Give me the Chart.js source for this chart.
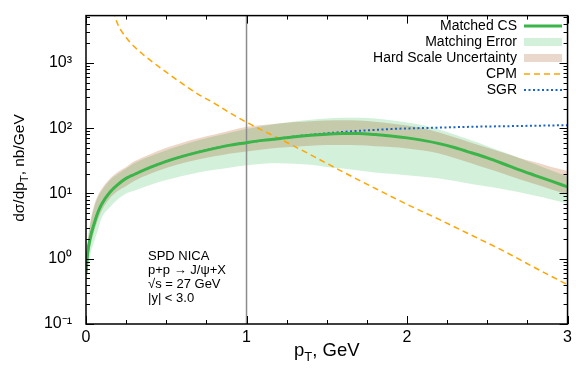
<!DOCTYPE html>
<html>
<head>
<meta charset="utf-8">
<script src="https://cdn.jsdelivr.net/npm/chart.js@4.4.1/dist/chart.umd.min.js"></script>
<style>
html,body{margin:0;padding:0;background:#fff}
#wrap{width:576px;height:369px}
</style>
</head>
<body>
<div id="wrap"><canvas id="c" width="576" height="369"></canvas></div>
<script>
// pT grid, GeV
const pT = [0,0.01,0.025,0.05,0.075,0.1,0.15,0.2,0.25,0.3,0.4,0.5,0.6,0.7,0.8,0.9,1.0,1.1,1.2,1.3,1.4,1.5,1.6,1.7,1.8,1.9,2.0,2.1,2.2,2.3,2.4,2.5,2.6,2.7,2.8,2.9,3.0];
// dsigma/dpT, nb/GeV
const matchedCS   = [0.6,1.2,2.0,3.4,5.2,7.0,10.5,13.8,17,19.5,25,31,37,43,49,55,60,65,69,74,78,81,83,83,80,76,71,65,58,50,42,35,28.5,23,18.8,15.4,12.6];
const matchErrHi  = [0.85,1.7,3.2,6.0,8.8,11.2,16,20,24,29,37,46,55,65,75,86,97,108,118,127,135,141,144,144,140,132,122,111,95,79,65,53,43,35,28,22.5,18.3];
const matchErrLo  = [0.35,0.6,1.1,1.8,2.8,4.3,6.2,8.2,10,11,13.5,16,18.5,21,23,25,27,28.5,29,28.5,27.5,25.5,24,22.5,21,20,19,18,17,15.5,14,12.8,11.6,10.4,9.2,8.1,7.0];
const hardScaleHi = [0.9,1.8,3.5,6.5,9.5,12,17,21.5,25.5,31,40,50,60,70,80,92,105,112,118,124,128,131,132,131,125,118,110,100,86,72,60,50,42,35,30,25.5,22];
const hardScaleLo = [0.45,0.9,1.5,2.6,4.0,5.6,8.5,11,13,15.5,20,24.5,29,33,37,41,44,47,50,52,54,55,55,54.5,53,51.5,49,45.5,41,34.5,29,24,20,16.5,13.8,11.5,9.6];
const sgr         = [0.6,1.2,2.0,3.4,5.2,7.0,10.5,13.8,17,19.5,25,31,37,43,49,55,60,65,69,75,79,83.5,87.5,91,94,97,99,100.5,102,103.5,105,106,107,108,109,110,111];
const cpmPT  = [0.16,0.18,0.2,0.25,0.3,0.35,0.4,0.5,0.6,0.7,0.8,0.9,1.0,1.2,1.4,1.6,1.8,2.0,2.2,2.4,2.6,2.8,3.0];
const cpm    = [9000,5300,3800,2450,1780,1380,1100,720,480,330,240,170,123,70,39,21.4,12,6.8,4.0,2.3,1.32,0.72,0.40];
const cutPT = [1, 1];
const cutY  = [0.1, 5300];
const xTicks = [0,1,2,3];
const yTicks = [0.1,1,10,100,1000];
const infoLines = ['SPD NICA','p+p \u2192 J/\u03c8+X','\u221as = 27 GeV','|y| < 3.0'];

const FONT = "'Liberation Sans', Arial, sans-serif";
const pts = (xs, ys) => xs.map((x,i)=>({x, y:ys[i]}));
const sup = {'-':'\u207b','0':'\u2070','1':'\u00b9','2':'\u00b2','3':'\u00b3'};

const decor = {
  id:'decor',
  afterDatasetDraw(chart, args){
    // hard-scale band is multiplied over the matching band (darker overlap)
    if (args.index === 4) chart.ctx.globalCompositeOperation = 'multiply';
    if (args.index === 3) chart.ctx.globalCompositeOperation = 'source-over';
  },
  afterDraw(chart){
    const ctx = chart.ctx, a = chart.chartArea, xs = chart.scales.x, ys = chart.scales.y;
    ctx.save();
    ctx.strokeStyle = '#000'; ctx.lineWidth = 1;
    ctx.beginPath();
    // y ticks, major + minor, both sides
    for (let d = 0.1; d < 1e4; d *= 10) {
      for (let k = 1; k < 10; k++) {
        const v = k*d;
        if (v < ys.min*0.999 || v > ys.max) continue;
        const y = Math.round(ys.getPixelForValue(v)) + 0.5, len = k === 1 ? 8 : 4;
        ctx.moveTo(a.left, y); ctx.lineTo(a.left+len, y);
        ctx.moveTo(a.right, y); ctx.lineTo(a.right-len, y);
      }
    }
    for (let i = 0; i <= 12; i++) {
      const x = Math.round(xs.getPixelForValue(i*0.25)) + 0.5, len = i%4 === 0 ? 8 : 4;
      ctx.moveTo(x, a.bottom); ctx.lineTo(x, a.bottom-len);
      ctx.moveTo(x, a.top); ctx.lineTo(x, a.top+len);
    }
    ctx.stroke();
    ctx.lineWidth = 1.5;
    ctx.strokeRect(a.left, a.top, a.right-a.left, a.bottom-a.top);

    // legend
    ctx.font = '14px ' + FONT; ctx.fillStyle = '#000';
    ctx.textAlign = 'right'; ctx.textBaseline = 'middle';
    const items = [0,1,3,5,6];
    items.forEach((di, r) => {
      const ds = chart.data.datasets[di], y = 26 + r*16;
      ctx.fillText(ds.label, 517, y);
      if (di === 1 || di === 3) {
        ctx.fillStyle = di === 1 ? ds.backgroundColor : '#e9d8cb';
        ctx.fillRect(524, y-4, 38, 8);
        ctx.fillStyle = '#000';
      } else {
        ctx.save();
        ctx.strokeStyle = ds.borderColor; ctx.lineWidth = ds.borderWidth;
        ctx.setLineDash(ds.borderDash || []);
        ctx.beginPath(); ctx.moveTo(524, y); ctx.lineTo(562, y); ctx.stroke();
        ctx.restore();
      }
    });

    // info text
    ctx.font = '13px ' + FONT; ctx.textAlign = 'left';
    infoLines.forEach((t, i) => ctx.fillText(t, 148, 256 + i*14));

    // axis titles with subscript T
    const title = (pre, post, fs, ss) => {
      ctx.font = fs + 'px ' + FONT; const w1 = ctx.measureText(pre).width, w3 = ctx.measureText(post).width;
      ctx.font = ss + 'px ' + FONT; const w2 = ctx.measureText('T').width;
      let x = -(w1+w2+w3)/2;
      ctx.textAlign = 'left'; ctx.textBaseline = 'alphabetic';
      ctx.font = fs + 'px ' + FONT; ctx.fillText(pre, x, 0); x += w1;
      ctx.font = ss + 'px ' + FONT; ctx.fillText('T', x, fs*0.27); x += w2;
      ctx.font = fs + 'px ' + FONT; ctx.fillText(post, x, 0);
    };
    ctx.save(); ctx.translate((a.left+a.right)/2, 356); title('p', ', GeV', 18.5, 13); ctx.restore();
    ctx.save(); ctx.translate(24, 168); ctx.rotate(-Math.PI/2); title('d\u03c3/dp', ', nb/GeV', 15.5, 11); ctx.restore();
    ctx.restore();
  }
};

new Chart(document.getElementById('c'), {
  type:'line',
  data:{ datasets:[
    {label:'Matched CS', data:pts(pT, matchedCS), borderColor:'#3bb54a', borderWidth:3, order:0},
    {label:'Matching Error', data:pts(pT, matchErrHi), borderWidth:0, backgroundColor:'#d3f1da', fill:'+1', order:5},
    {label:'', data:pts(pT, matchErrLo), borderWidth:0, order:5},
    {label:'Hard Scale Uncertainty', data:pts(pT, hardScaleHi), borderWidth:0, backgroundColor:'#eed7c7', fill:'+1', order:4},
    {label:'', data:pts(pT, hardScaleLo), borderWidth:0, order:4},
    {label:'CPM', data:pts(cpmPT, cpm), borderColor:'#ffa500', borderWidth:1.5, borderDash:[6,4], order:2},
    {label:'SGR', data:pts(pT, sgr), borderColor:'#1a64c8', borderWidth:2, borderDash:[2,2.5], order:1},
    {label:'', data:pts(cutPT, cutY), borderColor:'#8c8c8c', borderWidth:1.5, order:3}
  ]},
  options:{
    responsive:false, animation:false,
    layout:{padding:{left:0,right:7,top:6,bottom:0}},
    elements:{point:{radius:0}, line:{cubicInterpolationMode:'monotone'}},
    plugins:{legend:{display:false}, tooltip:{enabled:false}},
    scales:{
      x:{type:'linear', min:0, max:3,
        grid:{display:false, drawTicks:false}, border:{display:false},
        afterBuildTicks:s=>{ s.ticks = xTicks.map(v=>({value:v})); },
        ticks:{font:{family:FONT,size:16}, color:'#000', padding:4, maxRotation:0},
        afterFit:s=>{ s.height = 45; }},
      y:{type:'logarithmic', min:0.1, max:5300,
        grid:{display:false}, border:{display:false},
        afterBuildTicks:s=>{ s.ticks = yTicks.map(v=>({value:v})); },
        ticks:{font:{family:FONT,size:16}, color:'#000', padding:6,
          callback:v=>'10' + String(Math.round(Math.log10(v))).split('').map(c=>sup[c]).join('')},
        afterFit:s=>{ s.width = 86; }}
    }
  },
  plugins:[decor]
});
</script>
</body>
</html>
